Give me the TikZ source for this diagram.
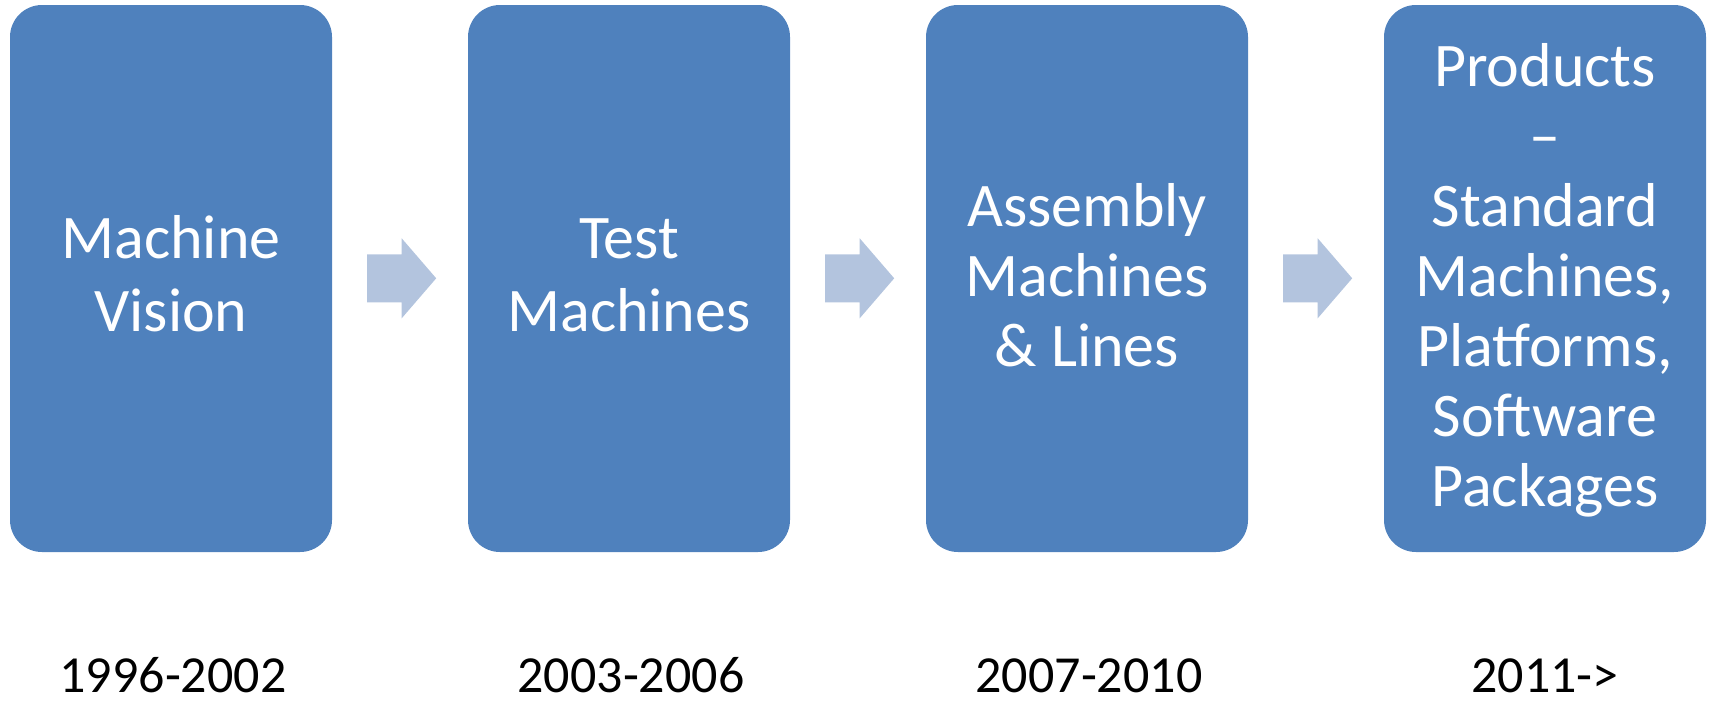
\documentclass[tikz,border=0pt]{standalone}
\usepackage{fontspec}
\setmainfont{Carlito}
\definecolor{boxblue}{HTML}{4F81BD}
\definecolor{arrowblue}{HTML}{B3C4DE}
\tikzset{
  stagebox/.style={draw=none, fill=boxblue, rounded corners=32pt, minimum width=322pt, minimum height=547pt, inner sep=0pt},
  stagetext/.style={text=white, align=center, inner sep=0pt, font=\fontsize{62}{73}\selectfont},
  stagetextb/.style={stagetext, font=\fontsize{62}{70}\selectfont},
  yeartext/.style={text=black, inner sep=0pt, anchor=base, font=\fontsize{52}{62}\selectfont},
  stagearrow/.style={fill=arrowblue, draw=none}
}
\begin{document}
\begin{tikzpicture}[x=1pt, y=-1pt]
\useasboundingbox (0,0) rectangle (1710,702);
\node[stagebox] (b1) at (171,278.5) {};
\node[stagebox] (b2) at (629,278.5) {};
\node[stagebox] (b3) at (1087,278.5) {};
\node[stagebox] (b4) at (1545,278.5) {};
\node[stagetext] (t1) at (171,274) {Machine\\Vision};
\node[stagetext] (t2) at (629,275.5) {Test\\Machines};
\node[stagetextb] (t3) at (1087,275.5) {Assembly\\Machines\\\&\ Lines};
\node[stagetextb] (t4) at (1545,280.5) {Products\\–\\Standard\\Machines,\\Platforms,\\Software\\Packages};
\node[yeartext] (y1) at (173,692) {1996-2002};
\node[yeartext] (y2) at (631,692) {2003-2006};
\node[yeartext] (y3) at (1089,692) {2007-2010};
\node[yeartext] (y4) at (1545,692) {2011->};
\coordinate (a1) at (401.7,278.3);
\coordinate (a2) at (859.7,278.3);
\coordinate (a3) at (1317.7,278.3);
\foreach \a in {a1,a2,a3}{
  \fill[stagearrow, shift={(\a)}] (-34.5,-24) -- (0,-24) -- (0,-40) -- (34.5,0) -- (0,40) -- (0,24) -- (-34.5,24) -- cycle;
}
\end{tikzpicture}
\end{document}
